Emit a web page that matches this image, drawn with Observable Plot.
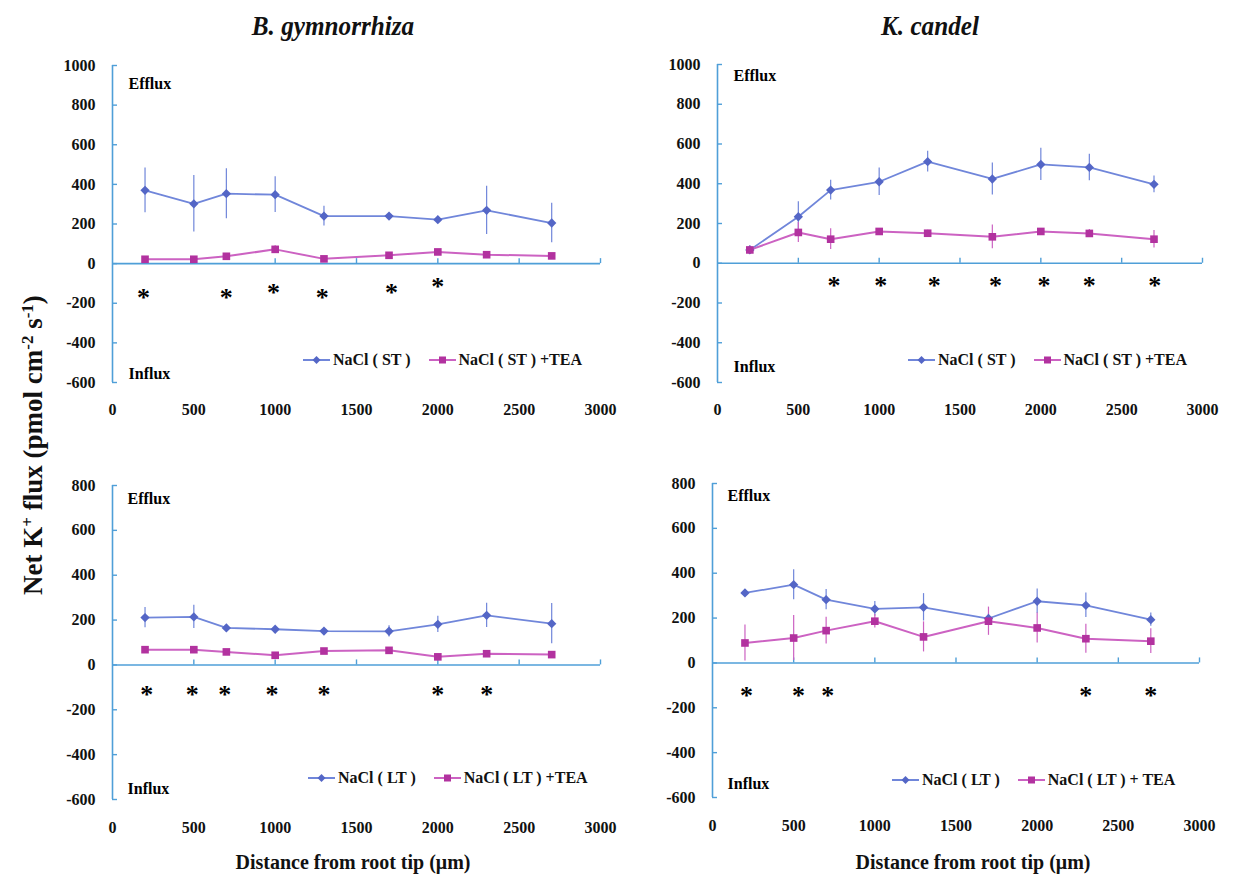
<!DOCTYPE html>
<html><head><meta charset="utf-8">
<script src="https://cdn.jsdelivr.net/npm/d3@7"></script>
<script src="https://cdn.jsdelivr.net/npm/@observablehq/plot@0.6"></script>
<style>
body{margin:0;background:#fff;}
#fig{position:relative;width:1242px;height:876px;overflow:hidden;font-family:"Liberation Serif","Times New Roman",serif;color:#111;background:#fff;}
.abs{position:absolute;white-space:nowrap;}
.title{font-weight:bold;font-style:italic;font-size:28px;transform:translate(-50%,-50%) scaleX(0.9);}
.xt{font-weight:bold;font-size:20px;transform:translate(-50%,-50%);}
.yt{font-weight:bold;font-size:27px;width:440px;height:34px;line-height:34px;text-align:center;transform:rotate(-90deg);}
.yt sup{font-size:17px;vertical-align:0.55em;line-height:0;}
.leg{font-weight:bold;font-size:16px;display:flex;align-items:center;transform:translateY(-50%);}
.leg svg{margin-right:3px;}
#fig svg{overflow:visible;}
#fig svg text{font-family:"Liberation Serif","Times New Roman",serif !important;font-weight:bold;}
</style></head>
<body><div id="fig"></div>
<script>
// ---------------- data ----------------
const distance = [200, 500, 700, 1000, 1300, 1700, 2000, 2300, 2700];
const xTicks = [0, 500, 1000, 1500, 2000, 2500, 3000];
const yTicksTop = [-600, -400, -200, 0, 200, 400, 600, 800, 1000];
const yTicksBottom = [-600, -400, -200, 0, 200, 400, 600, 800];

// B. gymnorrhiza, short term
const bgST = [370, 302, 353, 348, 240, 240, 222, 269, 205];
const bgSTerr = [113, 143, 126, 90, 50, 12, 12, 122, 100];
const bgSTtea = [22, 22, 37, 72, 24, 42, 59, 45, 39];
const bgSTteaErr = [12, 10, 12, 18, 10, 10, 12, 10, 10];
const bgSTstars = [190, 700, 990, 1290, 1715, 2000];
const bgSTstarsY = [-143, -143, -118, -143, -114, -84];

// K. candel, short term
const kcST = [67, 234, 368, 410, 511, 424, 497, 482, 397];
const kcSTerr = [20, 76, 50, 69, 52, 81, 81, 67, 42];
const kcSTtea = [67, 155, 121, 160, 151, 133, 160, 150, 121];
const kcSTteaErr = [20, 50, 52, 15, 15, 60, 15, 20, 44];
const kcSTstars = [720, 1010, 1340, 1720, 2020, 2300, 2705];
const kcSTstarsY = [-81, -81, -81, -81, -81, -81, -81];

// B. gymnorrhiza, long term
const bgLT = [211, 214, 165, 159, 151, 150, 181, 221, 184];
const bgLTerr = [45, 52, 10, 10, 10, 25, 36, 54, 90];
const bgLTtea = [68, 68, 58, 43, 62, 65, 36, 50, 46];
const bgLTteaErr = [10, 10, 10, 10, 10, 10, 10, 10, 10];
const bgLTstars = [210, 490, 690, 980, 1300, 2000, 2300];
const bgLTstarsY = [-108, -108, -108, -108, -108, -108, -108];

// K. candel, long term
const kcLT = [312, 349, 282, 241, 248, 198, 275, 257, 193];
const kcLTerr = [15, 67, 45, 33, 61, 20, 55, 55, 30];
const kcLTtea = [89, 111, 144, 186, 116, 186, 156, 108, 97];
const kcLTteaErr = [80, 100, 60, 30, 67, 63, 67, 65, 55];
const kcLTstars = [210, 530, 710, 2300, 2700];
const kcLTstarsY = [-119, -119, -119, -119, -119];

const seriesNames = ["NaCl ( ST )", "NaCl ( ST ) +TEA", "NaCl ( LT )", "NaCl ( LT ) +TEA", "NaCl ( LT ) + TEA"];

// ---------------- styles ----------------
const axisColor = "#4f9fd8";
const blueLine = "#7086da", blueDot = "#5466c6";
const magLine = "#cc62c2", magDot = "#b2329f";

const fig = document.getElementById("fig");
function addDiv(cls, html, left, top) {
  const d = document.createElement("div");
  d.className = "abs " + cls;
  d.innerHTML = html;
  d.style.left = left + "px";
  d.style.top = top + "px";
  fig.appendChild(d);
  return d;
}

function rows(vals, errs) {
  return distance.map((x, i) => ({x, v: vals[i], lo: vals[i] - errs[i], hi: vals[i] + errs[i]}));
}

function panel(cfg) {
  const a = rows(cfg.a, cfg.aErr), b = rows(cfg.b, cfg.bErr);
  const stars = cfg.stars.map((x, i) => ({x, y: cfg.starsY[i]}));
  const p = Plot.plot({
    width: cfg.w, height: cfg.h,
    marginLeft: cfg.ml, marginRight: cfg.mr, marginTop: cfg.mt, marginBottom: cfg.mb,
    style: {fontFamily: "'Liberation Serif', 'Times New Roman', serif", fontSize: "16px", fontWeight: "bold", color: "#111", background: "transparent", overflow: "visible"},
    x: {domain: [0, 3000], ticks: xTicks, tickSize: 0, tickPadding: cfg.xpad, label: null, tickFormat: d => `${d}`},
    y: {domain: cfg.yDomain, ticks: cfg.yTicks, tickSize: 0, tickPadding: 17, label: null, tickFormat: d => `${d}`},
    marks: [
      Plot.ruleX([0], {stroke: axisColor, strokeWidth: 1.6}),
      Plot.ruleY(cfg.yTicks, {x1: 0, x2: 0, insetRight: -5, stroke: axisColor, strokeWidth: 1.4}),
      Plot.ruleY([0], {stroke: axisColor, strokeWidth: 1.6}),
      Plot.ruleX(xTicks.filter(d => d > 0), {y1: 0, y2: 0, insetBottom: 5, stroke: axisColor, strokeWidth: 1.4}),
      Plot.ruleX(a, {x: "x", y1: "lo", y2: "hi", stroke: blueLine, strokeWidth: 1.2}),
      Plot.ruleX(b, {x: "x", y1: "lo", y2: "hi", stroke: magLine, strokeWidth: 1.2}),
      Plot.line(a, {x: "x", y: "v", stroke: blueLine, strokeWidth: 1.8}),
      Plot.line(b, {x: "x", y: "v", stroke: magLine, strokeWidth: 2}),
      Plot.dot(a, {x: "x", y: "v", symbol: "diamond2", r: 4.2, fill: blueDot, stroke: "none"}),
      Plot.dot(b, {x: "x", y: "v", symbol: "square", r: 4.3, fill: magDot, stroke: "none"}),
      Plot.text(stars, {x: "x", y: "y", text: () => "*", fontSize: 26, fontWeight: "bold", fill: "#000", dy: 6}),
      Plot.text(["Efflux"], {frameAnchor: "top-left", textAnchor: "start", lineAnchor: "middle", dx: cfg.edx, dy: cfg.edy, fontSize: 16, fill: "#000"}),
      Plot.text(["Influx"], {frameAnchor: "bottom-left", textAnchor: "start", lineAnchor: "middle", dx: cfg.edx, dy: cfg.idy, fontSize: 16, fill: "#000"})
    ]
  });
  p.style.position = "absolute";
  p.style.left = cfg.left + "px";
  p.style.top = cfg.top + "px";
  fig.appendChild(p);
}

panel({left: 0, top: 40, w: 620, h: 400, ml: 112, mr: 20, mt: 25, mb: 58, xpad: 21,
  yDomain: [-600, 1000], yTicks: yTicksTop, a: bgST, aErr: bgSTerr, b: bgSTtea, bErr: bgSTteaErr,
  stars: bgSTstars, starsY: bgSTstarsY, edx: 16, edy: 18, idy: -9});
panel({left: 610, top: 40, w: 632, h: 400, ml: 107, mr: 40, mt: 24, mb: 58, xpad: 21,
  yDomain: [-600, 1000], yTicks: yTicksTop, a: kcST, aErr: kcSTerr, b: kcSTtea, bErr: kcSTteaErr,
  stars: kcSTstars, starsY: kcSTstarsY, edx: 16, edy: 11, idy: -16});
panel({left: 0, top: 460, w: 620, h: 380, ml: 112, mr: 20, mt: 25, mb: 41, xpad: 22,
  yDomain: [-600, 800], yTicks: yTicksBottom, a: bgLT, aErr: bgLTerr, b: bgLTtea, bErr: bgLTteaErr,
  stars: bgLTstars, starsY: bgLTstarsY, edx: 15, edy: 13, idy: -11});
panel({left: 600, top: 460, w: 642, h: 380, ml: 112, mr: 43, mt: 23, mb: 43, xpad: 22,
  yDomain: [-600, 800], yTicks: yTicksBottom, a: kcLT, aErr: kcLTerr, b: kcLTtea, bErr: kcLTteaErr,
  stars: kcLTstars, starsY: kcLTstarsY, edx: 15, edy: 12, idy: -14});

// ---------------- text ----------------
addDiv("title", "B. gymnorrhiza", 333, 26);
addDiv("title", "K. candel", 930, 26);
addDiv("yt", "Net K<sup>+</sup> flux (pmol cm<sup>-2</sup> s<sup>-1</sup>)", 33 - 220, 445 - 17);
addDiv("xt", "Distance from root tip (μm)", 353, 862);
addDiv("xt", "Distance from root tip (μm)", 973, 862);

function sw(color, dotColor, symbol) {
  const m = symbol === "diamond"
    ? `<path d="M13.5,1 L17.5,5 L13.5,9 L9.5,5Z" fill="${dotColor}"/>`
    : `<rect x="10" y="1.5" width="7" height="7" fill="${dotColor}"/>`;
  return `<svg width="27" height="10"><line x1="0" y1="5" x2="27" y2="5" stroke="${color}" stroke-width="2"/>${m}</svg>`;
}
function legend(left, top, nameA, nameB, gap) {
  addDiv("leg", `${sw(blueLine, blueDot, "diamond")}<span>${nameA}</span><span style="display:inline-block;width:${gap}px"></span>${sw(magLine, magDot, "square")}<span>${nameB}</span>`, left, top);
}
legend(303, 360, seriesNames[0], seriesNames[1], 18);
legend(908, 360, seriesNames[0], seriesNames[1], 18);
legend(308, 778, seriesNames[2], seriesNames[3], 18);
legend(892, 780, seriesNames[2], seriesNames[4], 18);
</script></body></html>
